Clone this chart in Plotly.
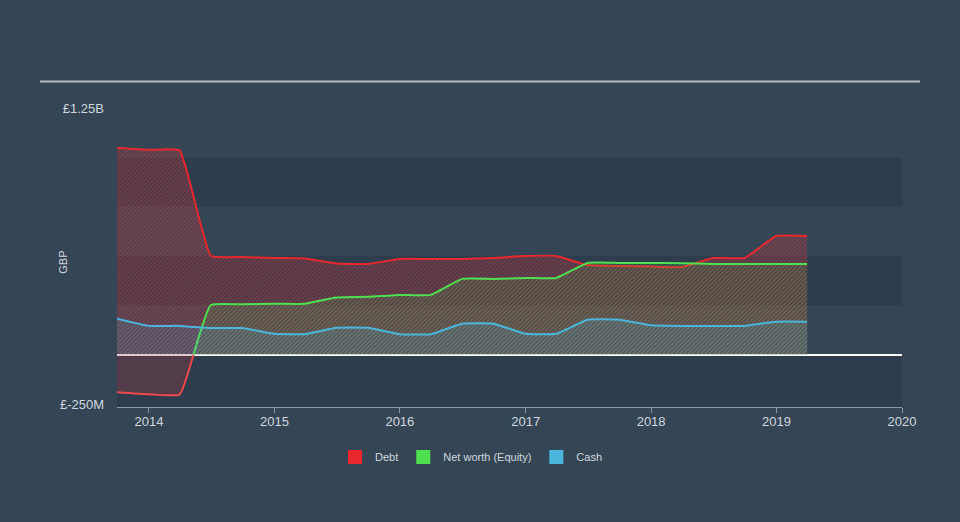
import numpy as np
import pandas as pd
import plotly.graph_objects as go

# ---------------- data (GBP millions) ----------------
dates = ["2013-09-30", "2013-12-31", "2014-03-31", "2014-06-30", "2014-09-30",
         "2014-12-31", "2015-03-31", "2015-06-30", "2015-09-30", "2015-12-31",
         "2016-03-31", "2016-06-30", "2016-09-30", "2016-12-31", "2017-03-31",
         "2017-06-30", "2017-09-30", "2017-12-31", "2018-03-31", "2018-06-30",
         "2018-09-30", "2018-12-31", "2019-03-31"]
debt = [1049, 1038, 1035, 501, 495, 490, 488, 462, 460, 485, 485, 485,
        490, 500, 500, 454, 449, 447, 444, 490, 490, 601, 601]
equity = [-190, -200, -202, 252, 255, 258, 258, 290, 293, 303, 303, 384,
          384, 389, 389, 465, 465, 465, 463, 460, 460, 460, 460]
cash = [182, 146, 146, 135, 135, 106, 104, 136, 136, 104, 104, 157,
        157, 106, 106, 177, 177, 149, 146, 146, 146, 167, 167]

series_names = ["Debt", "Net worth (Equity)", "Cash"]
year_ticks = ["2014", "2015", "2016", "2017", "2018", "2019", "2020"]
y_tick_vals = [1.25e9, -0.25e9]
y_tick_text = ["£1.25B", "£-250M"]

# ---------------- styles ----------------
BG = "#344555"
RED = "#e8282c"
GREEN = "#4fe04f"
BLUE = "#4ab6dc"
TXT = "#d2d8de"
FONT = "Liberation Sans, Arial, sans-serif"

x = pd.to_datetime(dates)
scale = 1e6
d = np.array(debt) * scale
e = np.array(equity) * scale
c = np.array(cash) * scale

# split equity where it crosses zero (negative part drawn red)
idx = int(np.where((e[:-1] < 0) & (e[1:] >= 0))[0][0])
frac = -e[idx] / (e[idx + 1] - e[idx])
x_cross = x[idx] + (x[idx + 1] - x[idx]) * frac
neg_x = list(x[:idx + 1]) + [x_cross]
neg_y = list(e[:idx + 1]) + [0.0]
pos_x = [x_cross] + list(x[idx + 1:])
pos_y = [0.0] + list(e[idx + 1:])

fig = go.Figure()
line_kw = dict(shape="spline", smoothing=0.35, width=2)

fig.add_trace(go.Scatter(
    x=x, y=d, mode="lines", line=dict(color=RED, **line_kw),
    fill="tozeroy", fillcolor="rgba(232,40,44,0.18)",
    fillpattern=dict(shape="/", fgcolor="rgba(240,70,75,0.7)",
                     bgcolor="rgba(232,40,44,0.16)", size=3, solidity=0.35),
    showlegend=False, hoverinfo="skip"))

fig.add_trace(go.Scatter(
    x=neg_x, y=neg_y, mode="lines", line=dict(color="#f0484c", **line_kw),
    fill="tozeroy", fillcolor="rgba(170,60,70,0.30)",
    showlegend=False, hoverinfo="skip"))

fig.add_trace(go.Scatter(
    x=pos_x, y=pos_y, mode="lines", line=dict(color=GREEN, **line_kw),
    fill="tozeroy", fillcolor="rgba(79,224,79,0.08)",
    fillpattern=dict(shape="/", fgcolor="rgba(79,224,79,0.35)",
                     bgcolor="rgba(79,224,79,0.08)", size=3, solidity=0.35),
    showlegend=False, hoverinfo="skip"))

fig.add_trace(go.Scatter(
    x=x, y=c, mode="lines", line=dict(color=BLUE, **line_kw),
    fill="tozeroy", fillcolor="rgba(74,182,220,0.12)",
    fillpattern=dict(shape="/", fgcolor="rgba(74,182,220,0.35)",
                     bgcolor="rgba(74,182,220,0.12)", size=3, solidity=0.35),
    showlegend=False, hoverinfo="skip"))

# legend entries as squares
for name, col in zip(series_names, [RED, GREEN, BLUE]):
    fig.add_trace(go.Scatter(
        x=[None], y=[None], mode="markers", name=name,
        marker=dict(symbol="square", size=14, color=col)))

# background bands
for y0, y1 in [(0.75e9, 1.0e9), (0.25e9, 0.5e9), (-0.265e9, 0.0)]:
    fig.add_shape(type="rect", xref="paper", yref="y", x0=0, x1=1, y0=y0, y1=y1,
                  fillcolor="rgba(30,42,56,0.28)", line_width=0, layer="below")

# top rule
fig.add_shape(type="line", xref="paper", yref="paper",
              x0=-0.098, x1=1.023, y0=1.081, y1=1.081,
              line=dict(color="#b4bcc4", width=2))

fig.add_annotation(text="GBP", xref="paper", yref="paper", x=-0.069, y=0.482,
                   xanchor="center", yanchor="middle",
                   showarrow=False, textangle=-90,
                   font=dict(family=FONT, size=11, color=TXT))

fig.update_layout(
    width=960, height=522,
    paper_bgcolor=BG, plot_bgcolor=BG,
    margin=dict(l=117, r=58, t=105.5, b=114.5),
    font=dict(family=FONT, color=TXT),
    showlegend=True,
    legend=dict(orientation="h", x=0.451, xanchor="center", y=-0.118,
                yanchor="top", font=dict(size=11, color=TXT),
                bgcolor="rgba(0,0,0,0)"),
    xaxis=dict(
        type="date", range=["2013-09-30", "2020-01-01"],
        tickvals=[f"{yr}-01-01" for yr in year_ticks], ticktext=year_ticks,
        showgrid=False, zeroline=False,
        showline=True, linecolor="#8c99a6", linewidth=1,
        ticks="outside", ticklen=5, tickcolor="#8c99a6",
        ticklabelstandoff=-3,
        tickfont=dict(size=13, color=TXT, family=FONT)),
    yaxis=dict(
        range=[-0.265e9, 1.26e9],
        tickvals=y_tick_vals, ticktext=y_tick_text,
        showgrid=False, zeroline=True, zerolinecolor="#ffffff", zerolinewidth=1.5,
        showline=False, ticks="", ticklabelstandoff=12,
        tickfont=dict(size=13, color=TXT, family=FONT)),
)

fig.write_html("out.html", config={"displayModeBar": False},
               post_script="document.body.style.margin='0';")
